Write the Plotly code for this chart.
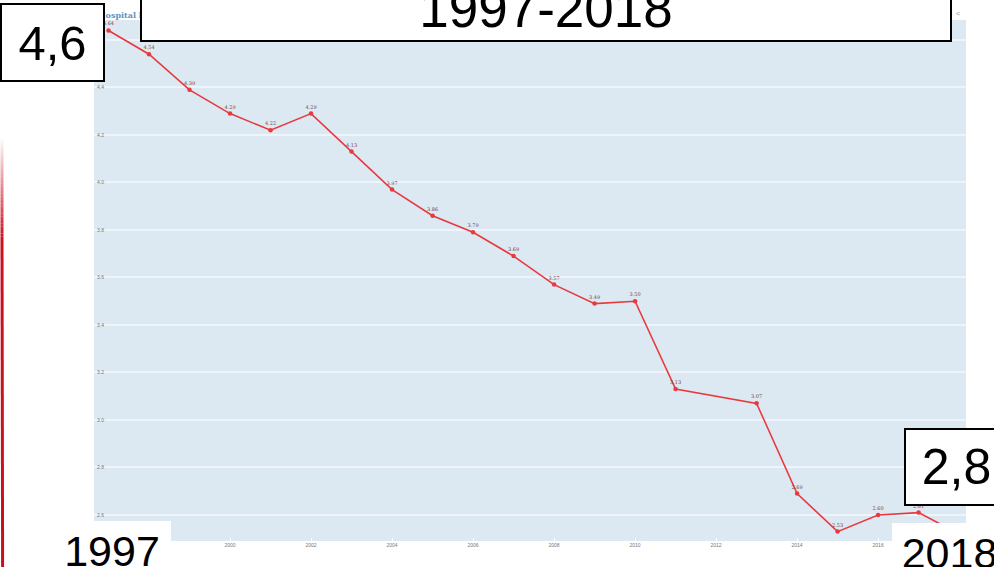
import plotly.graph_objects as go

# ---- data ----
years = [1997, 1998, 1999, 2000, 2001, 2002, 2003, 2004, 2005, 2006, 2007,
         2008, 2009, 2010, 2011, 2013, 2014, 2015, 2016, 2017, 2018]
beds = [4.64, 4.54, 4.39, 4.29, 4.22, 4.29, 4.13, 3.97, 3.86, 3.79, 3.69,
        3.57, 3.49, 3.50, 3.13, 3.07, 2.69, 2.53, 2.60, 2.61, 2.52]
chart_title = "Hospital beds"
period_label = "1997-2018"
start_value_label = "4,6"
end_value_label = "2,8"
start_year_label = "1997"
end_year_label = "2018"

W, H = 994, 567
L, R, T, B = 94, 966, 20, 541  # plot area in pixels


def px(x):
    return (x - L) / (R - L)


def py(y):
    return (B - y) / (B - T)


fig = go.Figure()
fig.add_trace(go.Scatter(
    x=years, y=beds, mode="lines+markers+text",
    line=dict(color="#e63a3e", width=1.6),
    marker=dict(color="#e63a3e", size=4.5),
    text=[f"{v:.2f}" for v in beds], textposition="top center",
    textfont=dict(size=5, color="#7a4444", family="DejaVu Serif"),
    hoverinfo="x+y", showlegend=False, cliponaxis=False,
))

annotations = []
# chart title (mostly hidden behind boxes)
annotations.append(dict(xref="paper", yref="paper", x=px(96), y=py(15),
                        xanchor="left", yanchor="middle", showarrow=False,
                        text="<b>" + chart_title + "</b>",
                        font=dict(size=8, color="#5a93c4", family="DejaVu Serif")))
annotations.append(dict(xref="paper", yref="paper", x=px(958), y=py(13),
                        xanchor="center", yanchor="middle", showarrow=False,
                        text="&lt;", font=dict(size=7, color="#999999")))


def box(text, x0, x1, y0, y1, size, border=True, dy=0):
    return dict(xref="paper", yref="paper",
                x=px((x0 + x1) / 2), y=py((y0 + y1) / 2),
                xanchor="center", yanchor="middle", showarrow=False,
                width=x1 - x0 - (4 if border else 0),
                height=y1 - y0 - (4 if border else 0),
                bgcolor="white",
                bordercolor="black" if border else "white",
                borderwidth=2 if border else 0, borderpad=0,
                align="center", valign="middle", yshift=dy,
                text=text,
                font=dict(size=size, color="black", family="Liberation Sans, Arial"))


annotations.append(box(start_value_label, 0, 105, 3, 82, 49))
annotations.append(box(period_label, 140, 952, -25, 42, 53))
annotations.append(box(end_value_label, 904, 1009, 428, 506, 50))
annotations.append(box(start_year_label, 53, 171, 521, 580, 43, border=False))
annotations.append(box(end_year_label, 892, 1007, 523, 582, 43, border=False))

shapes = []
# red vertical slide line with fade at the top
segs = 30
y_top, y_solid, y_bot = 140, 240, 567
for i in range(segs):
    ya = y_top + (y_solid - y_top) * i / segs
    yb = y_top + (y_solid - y_top) * (i + 1) / segs
    shapes.append(dict(type="line", xref="paper", yref="paper",
                       x0=px(2.0), x1=px(2.0), y0=py(ya), y1=py(yb),
                       line=dict(color="#c8101e", width=3),
                       opacity=(i + 1) / segs, layer="above"))
shapes.append(dict(type="line", xref="paper", yref="paper",
                   x0=px(2.0), x1=px(2.6), y0=py(y_solid), y1=py(y_bot),
                   line=dict(color="#c8101e", width=3), layer="above"))

fig.update_layout(
    width=W, height=H,
    margin=dict(l=L, r=W - R, t=T, b=H - B, pad=0),
    paper_bgcolor="white", plot_bgcolor="#dde9f2",
    xaxis=dict(range=[1996.642, 2018.17], tick0=2000, dtick=2,
               showgrid=False, zeroline=False, showline=False,
               ticks="inside", ticklen=3, tickcolor="white",
               tickfont=dict(size=5, color="#777777"), fixedrange=True),
    yaxis=dict(range=[2.4905, 4.684], tick0=2.6, dtick=0.2,
               tickformat=".1f", showgrid=True, gridcolor="#eef4f9", gridwidth=1.5,
               zeroline=False, showline=False, ticklabelposition="inside",
               tickfont=dict(size=5, color="#777777"), fixedrange=True),
    annotations=annotations, shapes=shapes,
    font=dict(family="Liberation Sans, Arial"),
)

fig.write_html("out.html", config={"displayModeBar": False},
               post_script="document.body.style.margin='0px';document.body.style.overflow='hidden';")
